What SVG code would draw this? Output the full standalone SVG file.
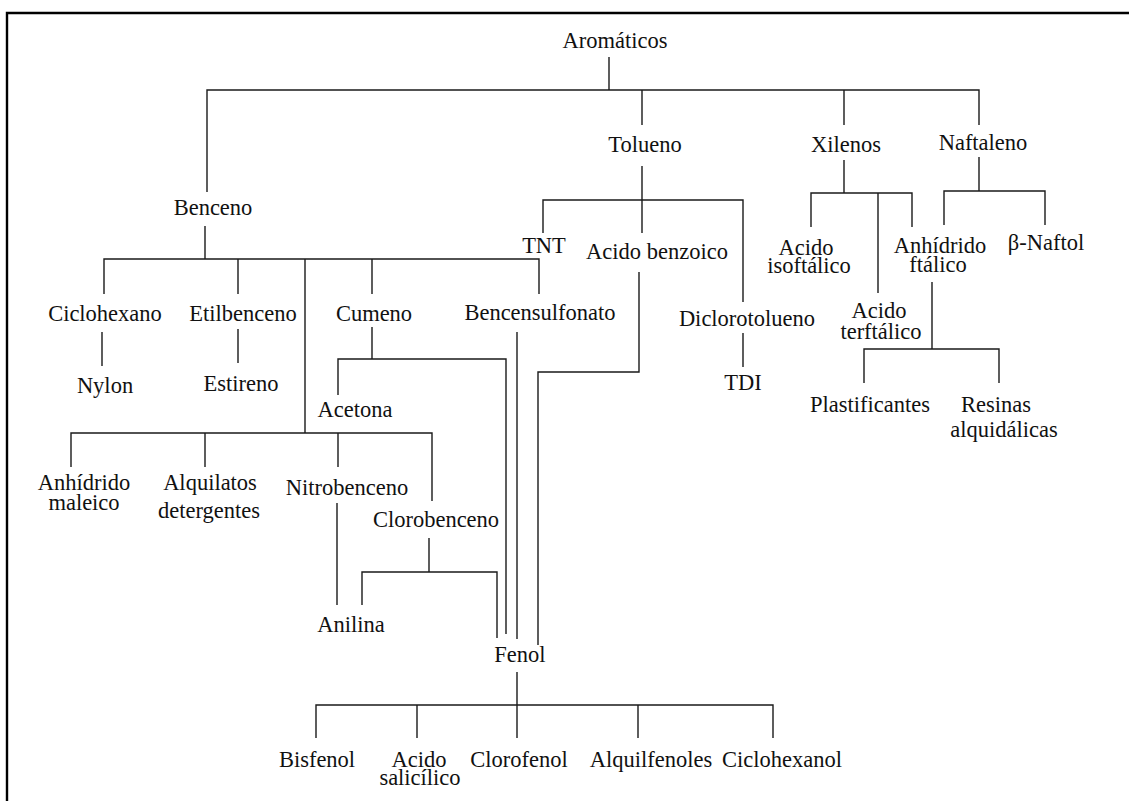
<svg xmlns="http://www.w3.org/2000/svg" width="1129" height="801" viewBox="0 0 1129 801">
  <style>
    .frame { fill: none; stroke: #000; stroke-width: 2.4; }
    .conn { fill: none; stroke: #1a1a1a; stroke-width: 1.4; stroke-linecap: butt; stroke-linejoin: miter; }
    text { font-family: "Liberation Serif", "Times New Roman", serif; font-size: 22.5px; fill: #111; text-anchor: middle; }
  </style>
  <rect width="1129" height="801" fill="#fff"/>
  <path class="frame" d="M7,801 V13 H1129"/>

  <g id="connectors" class="conn">
    <!-- Aromáticos fan-out -->
    <path d="M609,57 V90 M207,192 V90 H979 V125 M642,90 V125 M844,90 V125"/>
    <!-- Benceno fan-out -->
    <path d="M205,226 V259 M104,294 V259 H539 V294 M238,259 V294 M372,259 V294 M305,259 V433"/>
    <path d="M102,332 V366 M238,329 V363"/>
    <!-- Cumeno -> Acetona / Fenol -->
    <path d="M372,327 V359 M338,395 V359 H506 V634"/>
    <!-- Benceno second row -->
    <path d="M71,467 V433 H432 V501 M205,433 V467 M338,433 V467"/>
    <!-- Nitrobenceno -> Anilina, Clorobenceno -> Anilina / Fenol -->
    <path d="M337,503 V605 M429,538 V572 M362,605 V572 H497 V638"/>
    <!-- Bencensulfonato -> Fenol -->
    <path d="M517,332 V639"/>
    <!-- Tolueno fan-out -->
    <path d="M642,166 V233 M543,233 V200 H743 V302 M743,333 V367"/>
    <!-- Acido benzoico -> Fenol -->
    <path d="M639,272 V372 H538 V645"/>
    <!-- Xilenos fan-out -->
    <path d="M844,160 V193 M811,227 V193 H912 V227 M878,193 V293"/>
    <!-- Naftaleno fan-out -->
    <path d="M979,157 V191 M944,225 V191 H1045 V225"/>
    <!-- Anhídrido ftálico fan-out -->
    <path d="M932,282 V349 M864,383 V349 H999 V383"/>
    <!-- Fenol fan-out -->
    <path d="M517,672 V705 M316,738 V705 H773 V738 M417,705 V738 M517,705 V738 M638,705 V738"/>
  </g>

  <g id="aromaticos"><text x="615" y="48">Aromáticos</text></g>
  <g id="benceno"><text x="213" y="215">Benceno</text></g>
  <g id="tolueno"><text x="645" y="152">Tolueno</text></g>
  <g id="xilenos"><text x="846" y="152">Xilenos</text></g>
  <g id="naftaleno"><text x="983" y="150">Naftaleno</text></g>

  <g id="tnt"><text x="544" y="253">TNT</text></g>
  <g id="acido-benzoico"><text x="657" y="259">Acido benzoico</text></g>
  <g id="diclorotolueno"><text x="747" y="326">Diclorotolueno</text></g>
  <g id="tdi"><text x="743" y="390">TDI</text></g>

  <g id="acido-isoftalico"><text x="806" y="255">Acido</text><text x="809" y="273">isoftálico</text></g>
  <g id="anhidrido-ftalico"><text x="940" y="253">Anhídrido</text><text x="938" y="272">ftálico</text></g>
  <g id="beta-naftol"><text x="1046" y="250">β-Naftol</text></g>
  <g id="acido-terftalico"><text x="879" y="318">Acido</text><text x="881" y="339">terftálico</text></g>
  <g id="plastificantes"><text x="870" y="412">Plastificantes</text></g>
  <g id="resinas"><text x="996" y="412">Resinas</text><text x="1004" y="437">alquidálicas</text></g>

  <g id="ciclohexano"><text x="105" y="321">Ciclohexano</text></g>
  <g id="etilbenceno"><text x="243" y="321">Etilbenceno</text></g>
  <g id="cumeno"><text x="374" y="321">Cumeno</text></g>
  <g id="bencensulfonato"><text x="540" y="320">Bencensulfonato</text></g>
  <g id="nylon"><text x="105" y="393">Nylon</text></g>
  <g id="estireno"><text x="241" y="391">Estireno</text></g>
  <g id="acetona"><text x="355" y="417">Acetona</text></g>

  <g id="anhidrido-maleico"><text x="84" y="490">Anhídrido</text><text x="84" y="510">maleico</text></g>
  <g id="alquilatos"><text x="210" y="490">Alquilatos</text><text x="209" y="518">detergentes</text></g>
  <g id="nitrobenceno"><text x="347" y="495">Nitrobenceno</text></g>
  <g id="clorobenceno"><text x="436" y="527">Clorobenceno</text></g>
  <g id="anilina"><text x="351" y="632">Anilina</text></g>
  <g id="fenol"><text x="520" y="662">Fenol</text></g>

  <g id="bisfenol"><text x="317" y="767">Bisfenol</text></g>
  <g id="acido-salicilico"><text x="419" y="767">Acido</text><text x="420" y="785">salicílico</text></g>
  <g id="clorofenol"><text x="519" y="767">Clorofenol</text></g>
  <g id="alquilfenoles"><text x="651" y="767">Alquilfenoles</text></g>
  <g id="ciclohexanol"><text x="782" y="767">Ciclohexanol</text></g>
</svg>
